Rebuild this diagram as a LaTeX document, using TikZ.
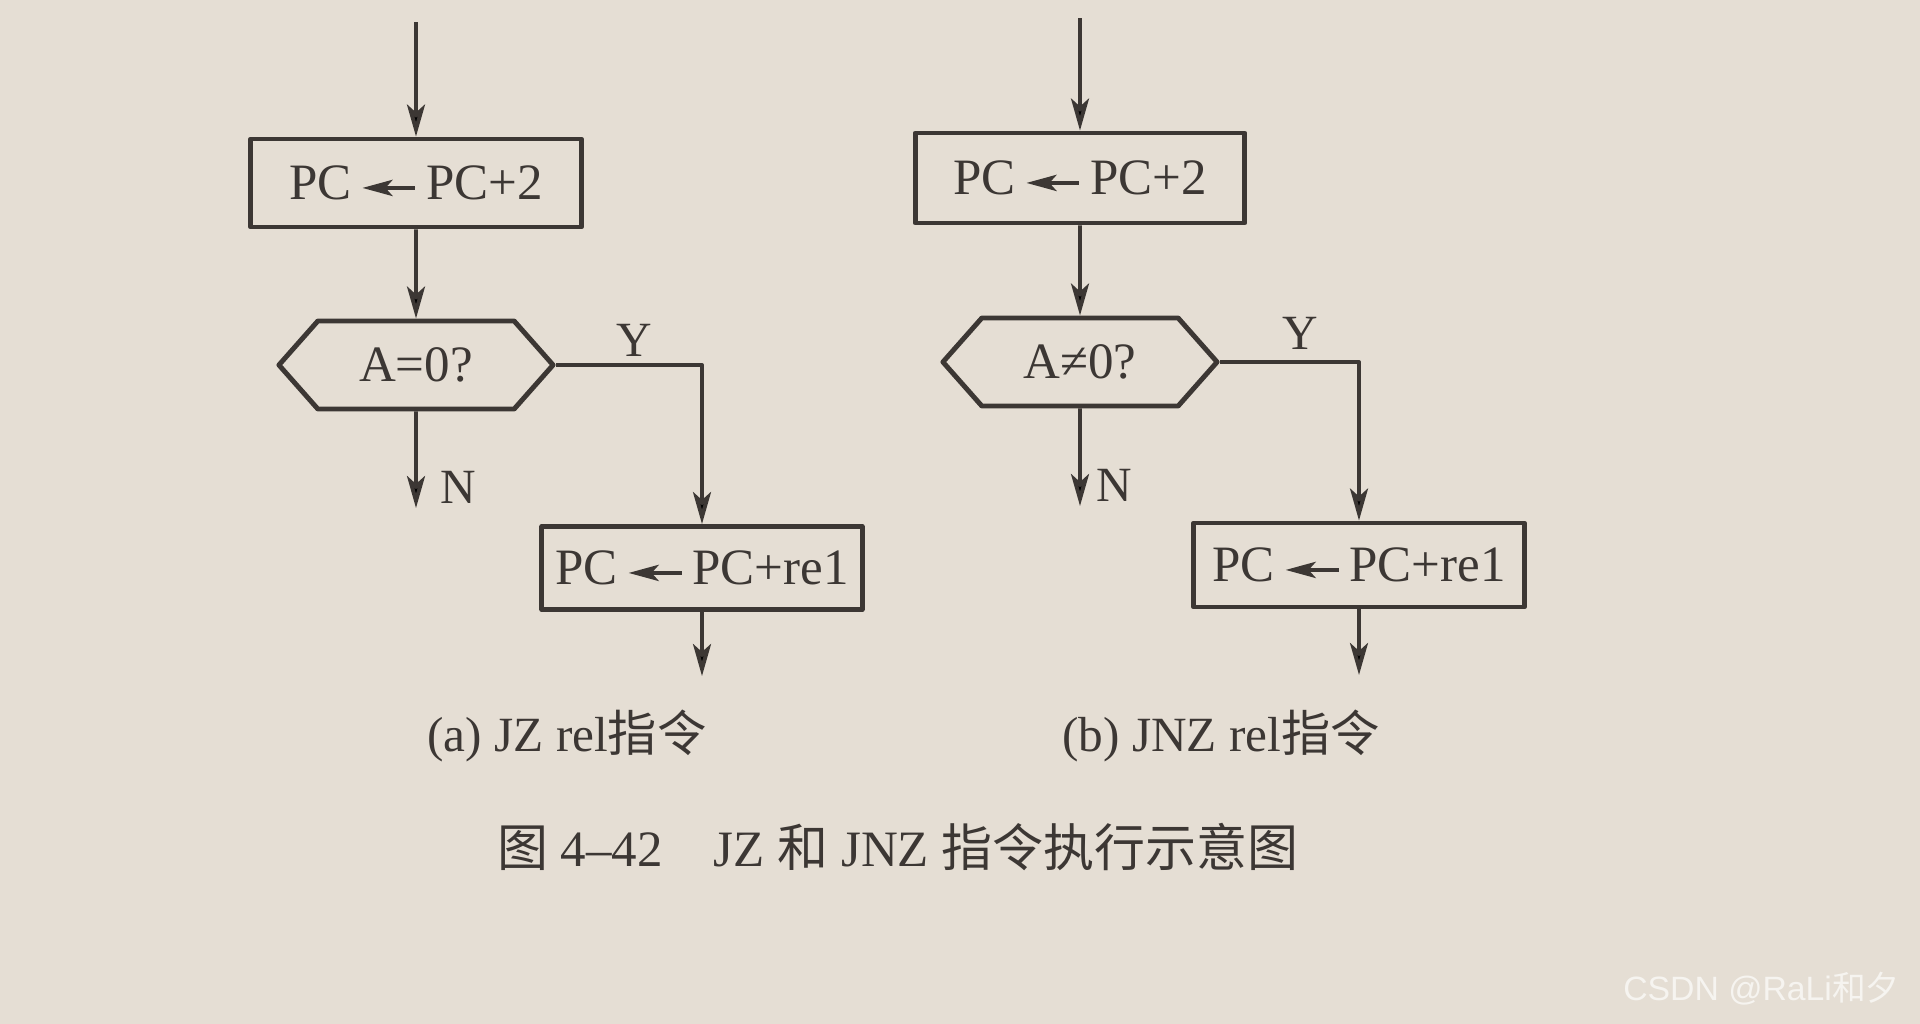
\documentclass[tikz,border=0pt]{standalone}
\usepackage{fontspec}
\setmainfont{Liberation Serif}
\newfontfamily\cjk{Noto Sans CJK SC}
\newfontfamily\wmfont{Liberation Sans}
\usetikzlibrary{arrows.meta,shapes.symbols}
\definecolor{paper}{RGB}{229,222,212}
\definecolor{ink}{RGB}{60,55,52}
\newcommand\pcarrow{\tikz[baseline=-0.5ex]\draw[draw=ink,fill=ink,line width=1.3pt,{Stealth[length=3mm,width=1.6mm,inset=0.7mm]}-](0,0)--(0.53cm,0);}

\begin{document}
\begin{tikzpicture}[x=0.01cm, y=-0.01cm, line join=round,
  procbox/.style={draw=ink, text=ink, line width=1.4pt, minimum height=0.88cm, inner sep=0pt, font=\fontsize{14.5}{16}\selectfont},
  testbox/.style={draw=ink, text=ink, line width=1.4pt, shape=signal, signal to=west and east, signal pointer angle=97, minimum width=2.74cm, minimum height=0.88cm, inner sep=0pt, font=\fontsize{14.5}{16}\selectfont},
  flow/.style={draw=ink, line width=1.1pt, -{Stealth[length=3.2mm,width=1.8mm,inset=0.8mm]}},
  lbl/.style={text=ink, font=\fontsize{14}{16}\selectfont}]
  \fill[paper] (0,0) rectangle (1920,1024);
  % (a) JZ rel
  \coordinate (inA) at (416,22);
  \node[procbox, minimum width=3.30cm] (pcA) at (416,183) {PC\,\pcarrow\,PC+2};
  \node[testbox] (testA) at (416,365) {A=0?};
  \node[procbox, minimum width=3.20cm, minimum height=0.83cm] (relA) at (702,568) {PC\,\pcarrow\,PC+re1};
  \coordinate (nA) at (416,508);
  \coordinate (outA) at (702,676);
  \draw[flow] (inA) -- (pcA);
  \draw[flow] (pcA) -- (testA);
  \draw[flow] (testA) -- (nA);
  \draw[flow] (testA.east) -| (relA);
  \draw[flow] (relA) -- (outA);
  \node[lbl] (yA) at (634,340) {Y};
  \node[lbl] (nlA) at (458,487) {N};
  % (b) JNZ rel
  \coordinate (inB) at (1080,18);
  \node[procbox, minimum width=3.29cm, minimum height=0.90cm] (pcB) at (1080,178) {PC\,\pcarrow\,PC+2};
  \node[testbox] (testB) at (1080,362) {A≠0?};
  \node[procbox, minimum width=3.30cm, minimum height=0.84cm] (relB) at (1359,565) {PC\,\pcarrow\,PC+re1};
  \coordinate (nB) at (1080,506);
  \coordinate (outB) at (1359,675);
  \draw[flow] (inB) -- (pcB);
  \draw[flow] (pcB) -- (testB);
  \draw[flow] (testB) -- (nB);
  \draw[flow] (testB.east) -| (relB);
  \draw[flow] (relB) -- (outB);
  \node[lbl] (yB) at (1300,333) {Y};
  \node[lbl] (nlB) at (1114,485) {N};
  % captions
  \node[lbl] (capA) at (567,736) {(a) JZ rel{\cjk 指令}};
  \node[lbl] (capB) at (1221,736) {(b) JNZ rel{\cjk 指令}};
  \node[text=ink, font=\fontsize{14.5}{17}\selectfont] (title) at (898,847) {{\cjk 图} 4–42\quad JZ {\cjk 和} JNZ {\cjk 指令执行示意图}};
  \node[anchor=east, text=white!65!paper, font=\wmfont\fontsize{9.6}{11}\selectfont] (mark) at (1912,989) {CSDN @RaLi{\cjk 和夕}};
\end{tikzpicture}
\end{document}
